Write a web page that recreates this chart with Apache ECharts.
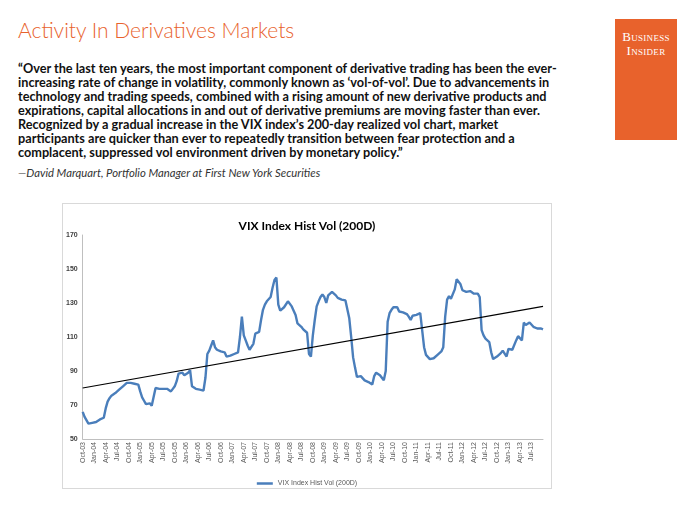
<!DOCTYPE html>
<html>
<head>
<meta charset="utf-8">
<title>Activity In Derivatives Markets</title>
<script src="https://cdn.jsdelivr.net/npm/echarts@6/dist/echarts.min.js"></script>
<style>
  body { margin: 0; width: 700px; height: 525px; background: #fff; position: relative; overflow: hidden; font-family: Lato, "Open Sans", sans-serif; }
  .page-title { position: absolute; left: 18px; top: 17px; font-size: 21px; font-weight: 300; color: #e8622c; white-space: nowrap; }
  .logo { position: absolute; left: 615px; top: 19px; width: 62px; height: 121px; background: #e8622c; color: #fff;
          font-family: "Liberation Serif", "DejaVu Serif", serif; font-variant: small-caps; font-size: 13px; line-height: 14px;
          text-align: center; letter-spacing: 0.3px; }
  .logo div:first-child { padding-top: 11px; }
  .quote { position: absolute; left: 18px; top: 61px; font-size: 12.7px; line-height: 14px; font-weight: 700; color: #111; white-space: nowrap; }
  .author { position: absolute; left: 18px; top: 166px; font-size: 11.3px; font-style: italic; color: #333; white-space: nowrap; }
  .chart-box { position: absolute; left: 62px; top: 203px; width: 490px; height: 286px; box-sizing: border-box; border: 1px solid #d9d9d9; }
  #vix-chart { width: 100%; height: 100%; }
</style>
</head>
<body>
<div class="page-title">Activity In Derivatives Markets</div>
<div class="logo"><div>Business</div><div>Insider</div></div>
<div class="quote">
  “Over the last ten years, the most important component of derivative trading has been the ever-<br>
  increasing rate of change in volatility, commonly known as ‘vol-of-vol’. Due to advancements in<br>
  technology and trading speeds, combined with a rising amount of new derivative products and<br>
  expirations, capital allocations in and out of derivative premiums are moving faster than ever.<br>
  Recognized by a gradual increase in the VIX index’s 200-day realized vol chart, market<br>
  participants are quicker than ever to repeatedly transition between fear protection and a<br>
  complacent, suppressed vol environment driven by monetary policy.”
</div>
<div class="author">—David Marquart, Portfolio Manager at First New York Securities</div>
<div class="chart-box"><div id="vix-chart"></div></div>
<script>
  // 200日VIX历史波动率，半月一个点，2003年10月起
  const vixVol = [
    66, 63, 62.5, 59, 58, 59.5, 60, 60, 60.5, 61.5, 62, 62.5, 68, 72, 74, 75.5, 76.5, 77, 78, 79, 80, 81, 82, 83,
    82.5, 83, 83.5, 82.5, 83, 82, 78, 74.5, 72.5, 70.5, 70, 71, 69.5, 69, 80, 81, 79.5, 79, 79.5, 79, 79.5, 79, 78, 79.5,
    81, 84, 88.5, 89.5, 89, 87.5, 88.5, 89, 90.5, 81, 80, 79.5, 79.5, 79, 79, 78.5, 86, 100, 102, 105, 108, 104, 102.5, 102,
    101.5, 102, 101, 98.5, 98, 99, 99.5, 100, 100.5, 101, 110, 122, 111, 108, 105, 102.5, 102, 106, 112, 113, 113, 120, 126, 129,
    131, 131, 133.5, 139, 143.5, 145, 129, 125.5, 126, 127.5, 127.5, 131, 132, 128, 125.5, 123, 118, 117, 116, 114.5, 114, 112.5, 100, 98.5,
    111, 120, 128, 131, 133.5, 135, 133.5, 130, 134.5, 135.5, 136.5, 137, 134.5, 133, 132.5, 132, 132, 131.5, 131.5, 121, 110, 98, 92, 86.5,
    86.5, 87, 88, 84.5, 84, 83.5, 82.5, 82, 87, 89, 89, 87.5, 86, 84.5, 90, 119, 124, 126, 127.5, 127.5, 127.5, 125, 125.5, 124.5,
    124, 123.5, 122, 120, 122.5, 122.5, 123, 123, 124, 124.5, 104, 99.5, 98.5, 97, 96.5, 97.5, 98.5, 99.5, 100, 101.5, 104, 122, 132, 134,
    132.5, 133.5, 138, 144, 144, 141, 137.5, 137, 136.5, 137, 137, 136, 135.5, 135.5, 135.5, 133.5, 114, 111, 109, 109.5, 107, 101, 97, 97.5,
    98.5, 99, 100.5, 102, 101, 98.5, 103, 104, 102.5, 101.5, 108, 110.5, 110, 108, 118.5, 117, 116, 118.5, 117.5, 116, 115.5, 115, 115.5, 115,
    114.5
  ];
  // 趋势线起点和终点
  const trendLine = [80, 128];
  const tickLabels = [
    'Oct-03', 'Jan-04', 'Apr-04', 'Jul-04', 'Oct-04', 'Jan-05', 'Apr-05', 'Jul-05', 'Oct-05', 'Jan-06',
    'Apr-06', 'Jul-06', 'Oct-06', 'Jan-07', 'Apr-07', 'Jul-07', 'Oct-07', 'Jan-08', 'Apr-08', 'Jul-08',
    'Oct-08', 'Jan-09', 'Apr-09', 'Jul-09', 'Oct-09', 'Jan-10', 'Apr-10', 'Jul-10', 'Oct-10', 'Jan-11',
    'Apr-11', 'Jul-11', 'Oct-11', 'Jan-12', 'Apr-12', 'Jul-12', 'Oct-12', 'Jan-13', 'Apr-13', 'Jul-13'
  ];
  const seriesName = 'VIX Index Hist Vol (200D)';

  const monthNames = ['Jan', 'Feb', 'Mar', 'Apr', 'May', 'Jun', 'Jul', 'Aug', 'Sep', 'Oct', 'Nov', 'Dec'];
  let periods = [];
  for (let i = 0; i < vixVol.length; i++) {
    let m = 9 + Math.floor(i / 2);
    let y = 2003 + Math.floor(m / 12);
    periods.push(monthNames[m % 12] + '-' + String(y).slice(2) + (i % 2 ? ' H2' : ''));
  }

  const chartFont = '"Liberation Sans Narrow", "Liberation Sans", sans-serif';
  let chart = echarts.init(document.getElementById('vix-chart'));
  chart.setOption({
    animation: false,
    title: {
      text: seriesName,
      left: 'center',
      top: 11,
      textStyle: { fontFamily: 'Lato', fontSize: 12, fontWeight: 'bold', color: '#000' }
    },
    legend: {
      data: [seriesName],
      left: 'center',
      top: 271,
      icon: 'rect',
      itemWidth: 16,
      itemHeight: 2.5,
      itemGap: 4,
      textStyle: { fontFamily: chartFont, fontSize: 7, color: '#595959' }
    },
    grid: { left: 19, right: 8, top: 31, bottom: 49 },
    xAxis: {
      type: 'category',
      data: periods,
      boundaryGap: false,
      axisLine: { lineStyle: { color: '#bfbfbf' } },
      axisTick: { show: false },
      axisLabel: {
        rotate: 90,
        margin: 3,
        fontSize: 7,
        fontFamily: chartFont,
        color: '#595959',
        interval: (idx) => idx % 6 === 0 && idx / 6 < tickLabels.length,
        formatter: (val, idx) => tickLabels[idx / 6]
      },
      splitLine: { show: false }
    },
    yAxis: {
      type: 'value',
      min: 50,
      max: 170,
      interval: 20,
      axisLine: { show: true, lineStyle: { color: '#bfbfbf' } },
      axisTick: { show: false },
      splitLine: { show: false },
      axisLabel: { fontSize: 7, fontWeight: 'bold', fontFamily: chartFont, color: '#404040', margin: 5 }
    },
    series: [{
      name: seriesName,
      type: 'line',
      data: vixVol,
      showSymbol: false,
      lineStyle: { color: '#4a7ebb', width: 2.4 },
      itemStyle: { color: '#4a7ebb' },
      markLine: {
        silent: true,
        symbol: ['none', 'none'],
        label: { show: false },
        lineStyle: { color: '#000', width: 1.2, type: 'solid' },
        data: [[
          { coord: [periods[0], trendLine[0]] },
          { coord: [periods[periods.length - 1], trendLine[1]] }
        ]]
      }
    }]
  });
</script>
</body>
</html>
